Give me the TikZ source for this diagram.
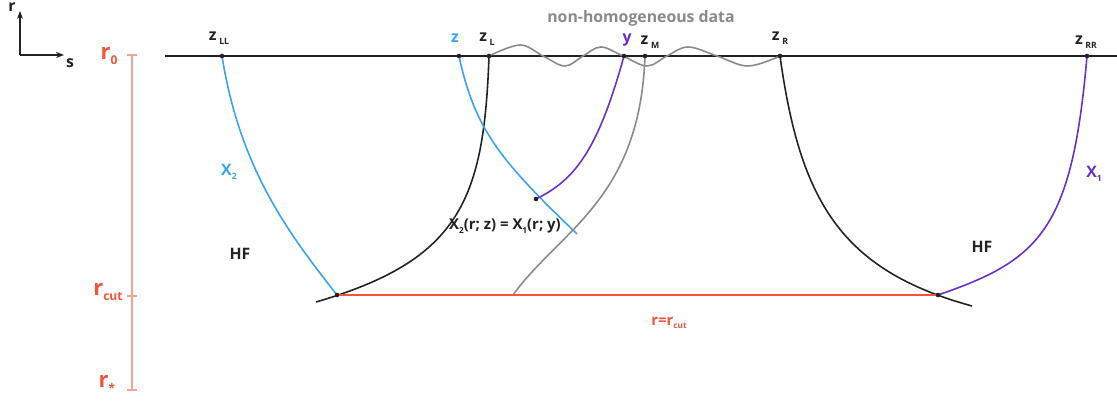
\documentclass[tikz,border=0pt]{standalone}
\usepackage{fontspec}
\setmainfont{Open Sans}
\usepackage{tikz}
\usetikzlibrary{positioning,arrows.meta,calc}
\definecolor{skyb}{HTML}{3AA3F0}
\definecolor{purp}{HTML}{6A2FC8}
\definecolor{brick}{HTML}{F2553A}
\definecolor{salm}{HTML}{F7A291}
\definecolor{ink}{HTML}{222222}
\definecolor{fog}{HTML}{8A8A8A}
\newcommand{\lowr}[1]{\raisebox{-0.45ex}{\scalebox{0.55}{#1}}}
\tikzset{
  crv/.style ={line width=0.9pt},
  dot/.style ={circle, fill=ink, inner sep=0pt, minimum size=2.6pt},
  lab/.style ={font=\bfseries\fontsize{9}{11}\selectfont, text=ink, inner sep=1pt},
  small/.style={font=\bfseries\fontsize{8.5}{10}\selectfont, inner sep=1pt},
  rlab/.style={font=\bfseries\fontsize{12.5}{15}\selectfont, text=brick, inner sep=1pt},
  axarr/.style={-{Stealth[length=1.6mm]}, line width=0.7pt, ink},
  barline/.style={salm, line width=0.8pt},
}
\begin{document}
\begin{tikzpicture}[x=0.02cm, y=-0.02cm]
        \useasboundingbox (0,0) rectangle (1117,401);
        % axes
        \coordinate (O) at (20,55);
        \coordinate (rTip) at (20,11);
        \coordinate (sTip) at (64,55);
        \draw[axarr] (O) -- (rTip);
        \draw[axarr] (O) -- (sTip);
        \node[lab] (rAx) at (12,7) {r};
        \node[lab] (sAx) at (70,63) {s};
        % scale bar
        \coordinate (b0) at (132,55);
        \coordinate (bcut) at (132,296);
        \coordinate (bstar) at (132,390);
        \draw[barline] (b0) -- (bstar);
        \foreach \b in {b0,bcut,bstar}
          \draw[barline] ([xshift=-3pt]\b) -- ([xshift=3pt]\b);
        \node[rlab] (r0) at (109,56) {r\lowr{0}};
        \node[rlab] (rcut) at (108,292) {r\lowr{cut}};
        \node[rlab] (rstar) at (107,384) {r\lowr{*}};
        % boundary r = r0
        \coordinate (left) at (165,56);
        \coordinate (right) at (1117,56);
        \draw[crv,ink] (left) -- (right);
        \coordinate (zLL) at (222,56);
        \coordinate (z) at (459,56);
        \coordinate (zL) at (489,56);
        \coordinate (y) at (624,56);
        \coordinate (zM) at (645,56);
        \coordinate (zR) at (780,56);
        \coordinate (zRR) at (1087,56);
        \coordinate (m) at (536,199);
        \coordinate (zend) at (577,234);
        \coordinate (cL) at (337,295);
        \coordinate (cR) at (938,295);
        \coordinate (lEnd) at (316,302);
        \coordinate (gEnd) at (513,295);
        \coordinate (rEnd) at (972,306);
        % data
        \draw[crv,fog] plot[smooth,tension=0.6] coordinates {(zL) (520,45) (543,56) (565,66) (583,56) (601,47) (623,56) (647,66) (667,56) (688,47) (717,56) (748,66) (zR)};
        % characteristics
        \draw[crv,skyb] (zLL) .. controls (240,170) and (290,235) .. (cL);
        \draw[crv,ink] (zL) .. controls (484,200) and (460,260) .. (lEnd);
        \draw[crv,skyb] (z) .. controls (475,130) and (500,160) .. (zend);
        \draw[crv,purp] (y) .. controls (598,150) and (575,180) .. (m);
        \draw[crv,fog] (zM) .. controls (640,200) and (560,230) .. (gEnd);
        \draw[crv,ink] (zR) .. controls (800,200) and (840,270) .. (rEnd);
        \draw[crv,purp] (zRR) .. controls (1072,230) and (1040,260) .. (cR);
        \draw[brick,line width=1.1pt] (cL) -- (cR);
        \foreach \p in {zLL,z,zL,y,zM,zR,zRR,m,cL,cR}
          \node[dot] at (\p) {};
        % labels
        \node[lab] (tLL) at (219,38) {z\,\lowr{LL}};
        \node[lab,text=skyb] (tz) at (455,38) {z};
        \node[lab] (tL) at (487,39) {z\,\lowr{L}};
        \node[lab,text=purp] (ty) at (627,40) {y};
        \node[lab] (tM) at (650,42) {z\,\lowr{M}};
        \node[lab] (tR) at (780,38) {z\,\lowr{R}};
        \node[lab] (tRR) at (1086,42) {z\,\lowr{RR}};
        \node[lab,text=fog] (nh) at (641,18) {non-homogeneous data};
        \node[lab,text=skyb] (X2) at (229,172) {X\lowr{2}};
        \node[lab] (HFl) at (240,254) {HF};
        \node[small,text=ink] (eq) at (505,226) {X\lowr{2}(r; z) = X\lowr{1}(r; y)};
        \node[lab] (HFr) at (982,247) {HF};
        \node[lab,text=purp] (X1) at (1094,174) {X\lowr{1}};
        \node[small,text=brick] (rr) at (669,323) {r=r\lowr{cut}};
      \end{tikzpicture}
\end{document}
